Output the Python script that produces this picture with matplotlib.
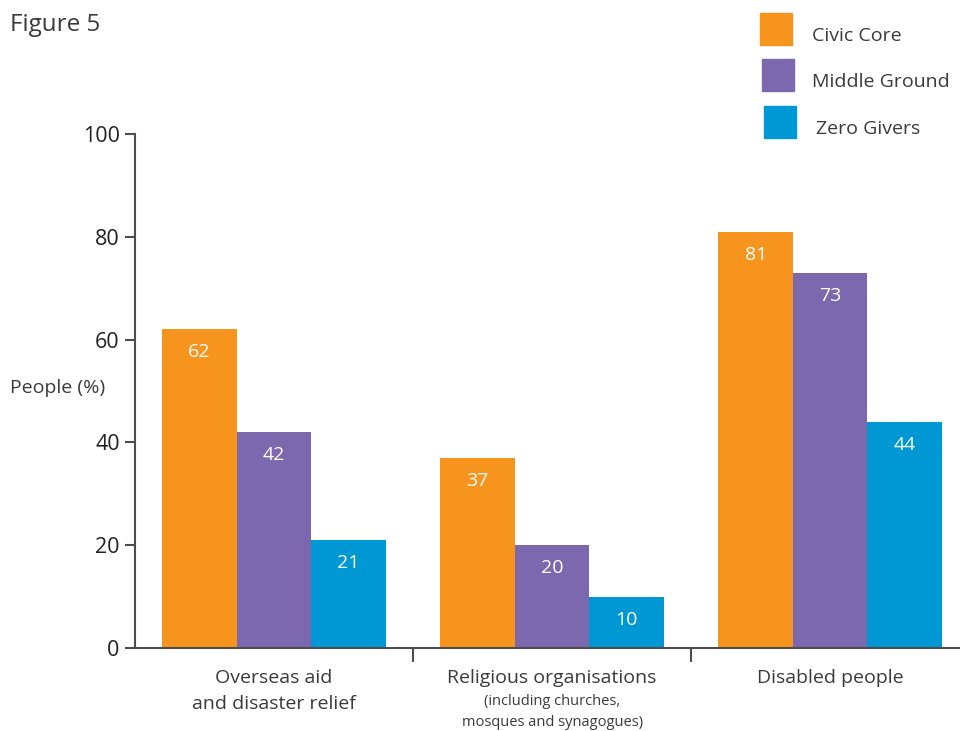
import matplotlib.pyplot as plt
import matplotlib.transforms as mtransforms
from matplotlib.patches import Rectangle
import numpy as np

plt.rcParams['font.family'] = ['Open Sans', 'DejaVu Sans']

# Data
categories = ['Overseas aid\nand disaster relief', 'Religious organisations', 'Disabled people']
category_notes = ['', '(including churches,\nmosques and synagogues)', '']
series = ['Civic Core', 'Middle Ground', 'Zero Givers']
civic_core = [62, 37, 81]
middle_ground = [42, 20, 73]
zero_givers = [21, 10, 44]
yticks = [0, 20, 40, 60, 80, 100]

colors = ['#F7941D', '#7B68AE', '#0098D4']
text_color = '#3a3a3a'
spine_color = '#4d4d4d'

fig = plt.figure(figsize=(9.6, 7.31), dpi=100)
ax = fig.add_axes([0.1406, 0.1135, 0.869, 0.7032])

x = np.arange(len(categories))
width = 0.268
for i, (name, vals) in enumerate(zip(series, [civic_core, middle_ground, zero_givers])):
    pos = x + (i - 1) * width
    ax.bar(pos, vals, width=width, color=colors[i], label=name)
    for px, v in zip(pos, vals):
        ax.annotate(str(v), (px, v), xytext=(0, -16.5), textcoords='offset points',
                    ha='center', va='center', color='white', fontsize=14)

ax.set_xlim(-0.5, 2.5)
ax.set_ylim(0, 100)
ax.set_yticks(yticks)
ax.tick_params(axis='y', direction='out', length=7, width=1.5, color=spine_color,
               labelsize=15.5, labelcolor='#222222', pad=4)

# group separators as downward ticks between categories
ax.set_xticks([])
ax.set_xticks([0.5, 1.5], minor=True)
ax.tick_params(axis='x', which='minor', direction='out', length=10, width=1.5,
               color=spine_color, labelbottom=False)

for s in ['top', 'right']:
    ax.spines[s].set_visible(False)
for s in ['left', 'bottom']:
    ax.spines[s].set_color(spine_color)
    ax.spines[s].set_linewidth(1.5)

# category labels below the axis
trans = mtransforms.blended_transform_factory(ax.transData, ax.transAxes)
for xi, label, note in zip(x, categories, category_notes):
    ax.text(xi, -0.04, label, transform=trans, ha='center', va='top',
            fontsize=14, color=text_color, linespacing=1.6)
    if note:
        ax.text(xi, -0.09, note, transform=trans, ha='center', va='top',
                fontsize=10.5, color=text_color, linespacing=1.55)

fig.text(10 / 960, 1 - 25 / 731, 'Figure 5', fontsize=17.5, color=text_color,
         ha='left', va='center')
fig.text(10 / 960, 1 - 388 / 731, 'People (%)', fontsize=14, color=text_color,
         ha='left', va='center')

# legend boxes
legend_rows = [(760, 13, 812, 36), (762, 59, 812, 82), (764, 106, 816, 129)]
for (bx, by, tx, ty), name, c in zip(legend_rows, series, colors):
    fig.add_artist(Rectangle((bx / 960, 1 - (by + 32) / 731), 32 / 960, 32 / 731,
                             transform=fig.transFigure, color=c))
    fig.text(tx / 960, 1 - ty / 731, name, fontsize=14, color=text_color,
             ha='left', va='center')

fig.savefig('out.png', dpi=100)
